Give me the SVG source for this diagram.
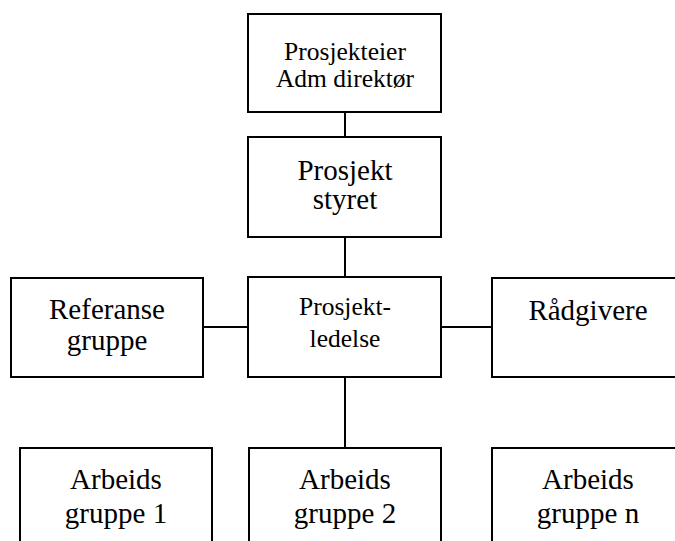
<svg xmlns="http://www.w3.org/2000/svg" width="675" height="541" viewBox="0 0 675 541">
<style>
.box{fill:#fff;stroke:#000;stroke-width:2}
.t{font-size:29px;fill:#000;text-anchor:middle}
.s{font-size:25.5px}
.c{stroke:#000;stroke-width:2;fill:none}
</style>
<rect width="675" height="541" fill="#fff"/>
<g id="connectors">
<line class="c" x1="345" y1="112" x2="345" y2="137"/>
<line class="c" x1="345" y1="237" x2="345" y2="277"/>
<line class="c" x1="345" y1="377" x2="345" y2="448"/>
<line class="c" x1="203" y1="327" x2="248" y2="327"/>
<line class="c" x1="441" y1="327" x2="492" y2="327"/>
</g>
<g font-family="Liberation Serif">
<g id="prosjekteier">
<rect class="box" x="248" y="14" width="193" height="98"/>
<text class="t s" x="345" y="60">Prosjekteier</text>
<text class="t s" x="345" y="87">Adm direktør</text>
</g>
<g id="prosjektstyret">
<rect class="box" x="248" y="137" width="193" height="100"/>
<text class="t" x="345" y="180">Prosjekt</text>
<text class="t" x="345" y="209">styret</text>
</g>
<g id="referansegruppe">
<rect class="box" x="11" y="278" width="192" height="99"/>
<text class="t" x="107" y="319">Referanse</text>
<text class="t" x="107" y="350">gruppe</text>
</g>
<g id="prosjektledelse">
<rect class="box" x="248" y="277" width="193" height="100"/>
<text class="t s" x="345" y="315">Prosjekt-</text>
<text class="t s" x="345" y="347">ledelse</text>
</g>
<g id="radgivere">
<rect class="box" x="492" y="278" width="200" height="99"/>
<text class="t" x="588" y="320">Rådgivere</text>
</g>
<g id="arbeidsgruppe1">
<rect class="box" x="20" y="448" width="192" height="110"/>
<text class="t" x="116" y="489">Arbeids</text>
<text class="t" x="116" y="523">gruppe 1</text>
</g>
<g id="arbeidsgruppe2">
<rect class="box" x="249" y="448" width="192" height="110"/>
<text class="t" x="345" y="489">Arbeids</text>
<text class="t" x="345" y="523">gruppe 2</text>
</g>
<g id="arbeidsgruppen">
<rect class="box" x="492" y="448" width="200" height="110"/>
<text class="t" x="588" y="489">Arbeids</text>
<text class="t" x="588" y="523">gruppe n</text>
</g>
</g>
</svg>
